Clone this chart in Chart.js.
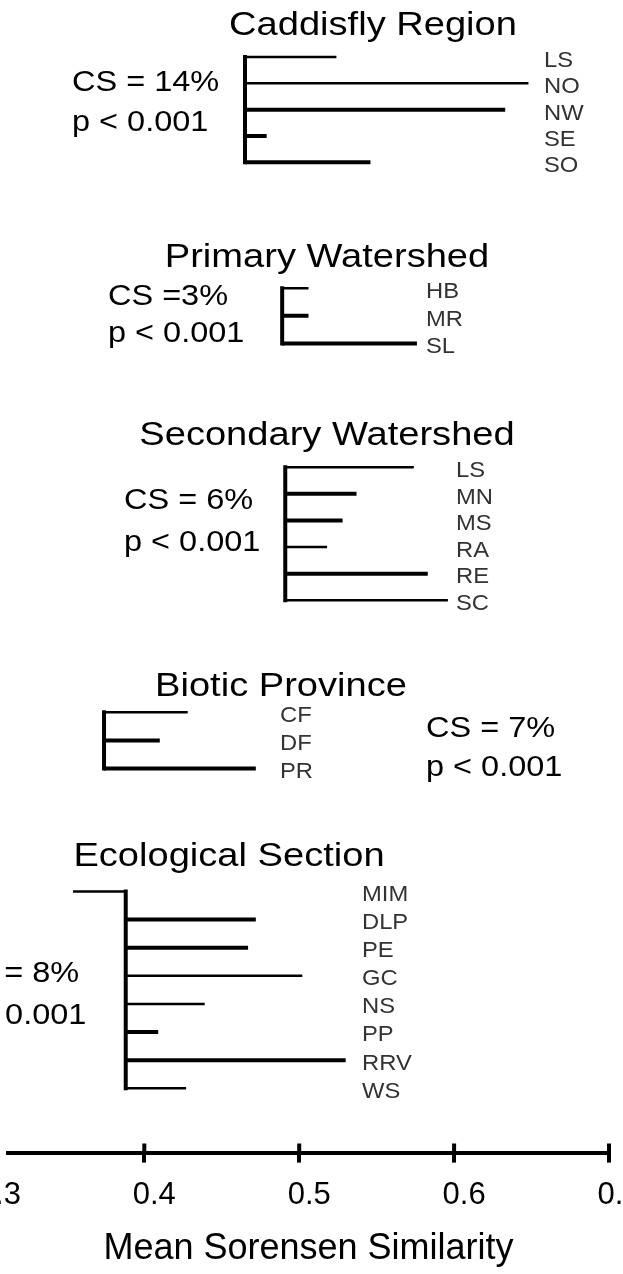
<!DOCTYPE html>
<html>
<head>
<meta charset="utf-8">
<script src="https://cdn.jsdelivr.net/npm/chart.js@4/dist/chart.umd.min.js"></script>
<style>
  html, body { margin: 0; padding: 0; background: #fff; }
  #chart { display: block; }
</style>
</head>
<body>
<canvas id="chart" width="623" height="1274"></canvas>
<script>
// data (mean Sorensen similarity)
const xTicks = [0.3, 0.4, 0.5, 0.6, 0.7];

const panelTitles = ['Caddisfly Region', 'Primary Watershed', 'Secondary Watershed', 'Biotic Province', 'Ecological Section'];
const csTexts = ['CS = 14%', 'CS =3%', 'CS = 6%', 'CS = 7%', 'CS = 8%'];
const pTexts = ['p < 0.001', 'p < 0.001', 'p < 0.001', 'p < 0.001', 'p < 0.001'];
const betweenMeans = [0.465, 0.489, 0.491, 0.374, 0.388];

const caddisLabels = ['LS', 'NO', 'NW', 'SE', 'SO'];
const caddisValues = [0.524, 0.648, 0.633, 0.479, 0.546];

const primaryLabels = ['HB', 'MR', 'SL'];
const primaryValues = [0.506, 0.506, 0.576];

const secondaryLabels = ['LS', 'MN', 'MS', 'RA', 'RE', 'SC'];
const secondaryValues = [0.574, 0.537, 0.528, 0.518, 0.583, 0.596];

const bioticLabels = ['CF', 'DF', 'PR'];
const bioticValues = [0.428, 0.410, 0.472];

const ecoLabels = ['MIM', 'DLP', 'PE', 'GC', 'NS', 'PP', 'RRV', 'WS'];
const ecoValues = [0.354, 0.472, 0.467, 0.502, 0.439, 0.409, 0.530, 0.427];

const groupLabels = [caddisLabels, primaryLabels, secondaryLabels, bioticLabels, ecoLabels];
const groupValues = [caddisValues, primaryValues, secondaryValues, bioticValues, ecoValues];

// layout / style (page pixels)
const layout = [
  { titleX: 373, titleY: 23,  firstRow: 57,  rowGap: 26.3, labelX: 544, noteX: 72,  csY: 81,  pY: 121 },
  { titleX: 327, titleY: 255, firstRow: 288, rowGap: 27.7, labelX: 426, noteX: 108, csY: 295, pY: 332 },
  { titleX: 327, titleY: 433, firstRow: 467, rowGap: 26.6, labelX: 456, noteX: 124, csY: 499, pY: 541 },
  { titleX: 281, titleY: 684, firstRow: 712, rowGap: 28,   labelX: 280, noteX: 426, csY: 727, pY: 766 },
  { titleX: 229, titleY: 854, firstRow: 891, rowGap: 28.1, labelX: 362, noteX: -50, csY: 972, pY: 1014 },
];
const heavy = [
  ['NW', 'SE', 'SO'],
  ['MR', 'SL'],
  ['MN', 'MS', 'RE'],
  ['DF', 'PR'],
  ['DLP', 'PE', 'PP', 'RRV'],
];
const FONT = '"Liberation Sans", Arial, Helvetica, sans-serif';
const axisY = 1152;

Chart.defaults.font.family = FONT;
Chart.defaults.color = '#000';

const rowY = (i, k) => layout[i].firstRow + k * layout[i].rowGap;

const datasets = [];
groupValues.forEach((values, i) => {
  const base = betweenMeans[i];
  datasets.push({
    data: [{ x: base, y: rowY(i, 0) }, { x: base, y: rowY(i, values.length - 1) }],
    borderWidth: 4,
    borderCapStyle: 'square'
  });
  values.forEach((v, k) => {
    datasets.push({
      data: [{ x: base, y: rowY(i, k) }, { x: v, y: rowY(i, k) }],
      borderWidth: heavy[i].includes(groupLabels[i][k]) ? 4 : 2.5
    });
  });
});
datasets.forEach(ds => {
  ds.showLine = true;
  ds.borderColor = '#000';
  ds.pointRadius = 0;
  ds.fill = false;
});

const drawText = (ctx, text, x, capY, size, align, color, stretch) => {
  ctx.save();
  ctx.font = `${size}px ${FONT}`;
  ctx.fillStyle = color;
  ctx.textAlign = align;
  ctx.textBaseline = 'alphabetic';
  ctx.translate(x, capY + size * 0.36);
  ctx.scale(stretch, 1);
  ctx.fillText(text, 0, 0);
  ctx.restore();
};

const textPlugin = {
  id: 'panelText',
  afterDraw(chart) {
    const ctx = chart.ctx;
    const xs = chart.scales.x;
    // upper half of the tick marks (Chart.js only draws them below the axis)
    ctx.save();
    ctx.strokeStyle = '#000';
    ctx.lineWidth = 4;
    ctx.beginPath();
    xs.ticks.forEach(t => {
      const px = xs.getPixelForValue(t.value);
      ctx.moveTo(px, chart.chartArea.bottom - 9);
      ctx.lineTo(px, chart.chartArea.bottom);
    });
    ctx.stroke();
    ctx.restore();

    panelTitles.forEach((title, i) => {
      const L = layout[i];
      drawText(ctx, title, L.titleX, L.titleY, 34, 'center', '#000', 1.12);
      drawText(ctx, csTexts[i], L.noteX, L.csY, 29, 'left', '#000', 1.12);
      drawText(ctx, pTexts[i], L.noteX, L.pY, 29, 'left', '#000', 1.12);
      groupLabels[i].forEach((lab, k) => {
        drawText(ctx, lab, L.labelX, rowY(i, k) + 2, 22, 'left', '#333', 1.08);
      });
    });
  }
};

new Chart(document.getElementById('chart'), {
  type: 'scatter',
  data: { datasets },
  options: {
    responsive: false,
    animation: false,
    layout: { autoPadding: false, padding: { left: 8, right: 14, top: 0, bottom: 0 } },
    plugins: { legend: { display: false }, tooltip: { enabled: false } },
    scales: {
      x: {
        type: 'linear',
        position: 'bottom',
        min: 0.312,
        max: 0.7,
        afterBuildTicks: scale => { scale.ticks = xTicks.map(v => ({ value: v })); },
        // the end labels are cut by the page edge in the original, so no label padding
        afterFit: scale => { scale.paddingLeft = 0; scale.paddingRight = 0; },
        ticks: {
          autoSkip: false,
          font: { size: 31 },
          color: '#000',
          padding: 14,
          labelOffset: 10,
          callback: v => v.toFixed(1)
        },
        grid: { drawOnChartArea: false, drawTicks: true, tickLength: 10, lineWidth: 4, color: '#000' },
        border: { display: true, width: 4, color: '#000' },
        title: {
          display: true,
          text: 'Mean Sorensen Similarity',
          font: { size: 36 },
          color: '#000',
          padding: { top: 0, bottom: 3 }
        }
      },
      y: {
        type: 'linear',
        display: false,
        reverse: true,
        min: 0,
        max: axisY
      }
    }
  },
  plugins: [textPlugin]
});
</script>
</body>
</html>
